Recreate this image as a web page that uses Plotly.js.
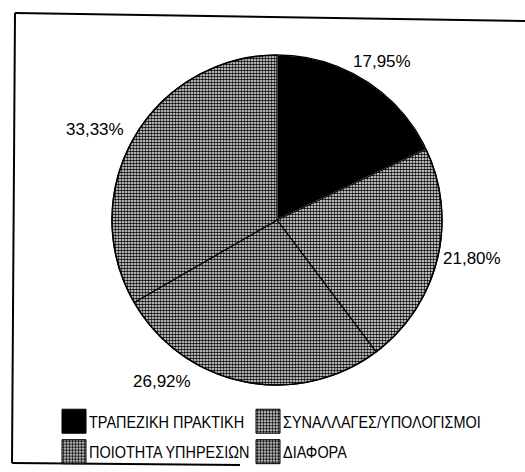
<!DOCTYPE html>
<html>
<head>
<meta charset="utf-8">
<script src="https://cdn.plot.ly/plotly-3.0.1.min.js"></script>
<style>
html,body{margin:0;padding:0;background:#fff;}
#chart{width:525px;height:472px;}
</style>
</head>
<body>
<div id="chart"></div>
<script>
// ---- data ----
const categories = ["ΤΡΑΠΕΖΙΚΗ ΠΡΑΚΤΙΚΗ", "ΣΥΝΑΛΛΑΓΕΣ/ΥΠΟΛΟΓΙΣΜΟΙ", "ΠΟΙΟΤΗΤΑ ΥΠΗΡΕΣΙΩΝ", "ΔΙΑΦΟΡΑ"];
const percentages = [17.95, 21.80, 26.92, 33.33];

// ---- layout helpers (pixel -> paper) ----
const W = 525, H = 472;
const px = x => x / W;
const py = y => 1 - y / H;

const labelFont = {family: "Liberation Sans, Arial, sans-serif", size: 17, color: "#000"};
const legendFont = {family: "Liberation Sans, Arial, sans-serif", size: 16.5, color: "#000"};

const fmt = v => v.toFixed(2).replace(".", ",") + "%";

// label anchor points (layout positions for the percentage labels)
const labelPos = [[382, 62], [472, 258], [162, 381], [95, 130]];

const cx = 277, cy = 220, r = 165;

const trace = {
  type: "pie",
  labels: categories,
  values: percentages,
  sort: false,
  direction: "clockwise",
  rotation: 0,
  textinfo: "none",
  hoverinfo: "label+percent",
  domain: {x: [px(cx - r), px(cx + r)], y: [py(cy + r), py(cy - r)]},
  marker: {
    colors: ["#000000", "#ffffff", "#ffffff", "#ffffff"],
    line: {color: ["#ffffff", "#000000", "#000000", "#000000"], width: 1.2},
    pattern: {
      shape: ["", ".", ".", "."],
      fgcolor: "#000000",
      bgcolor: ["#000000", "#ffffff", "#ffffff", "#ffffff"],
      size: [3, 3, 3, 3],
      solidity: [0.3, 0.55, 0.6, 0.6],
      fillmode: "replace"
    }
  }
};

const annotations = percentages.map((v, i) => ({
  xref: "paper", yref: "paper",
  x: px(labelPos[i][0]), y: py(labelPos[i][1]),
  xanchor: "center", yanchor: "middle",
  text: fmt(v), showarrow: false, font: labelFont
}));

const lineStyle = {color: "#000", width: 2};
const shapes = [
  {type: "line", xref: "paper", yref: "paper", x0: px(15), y0: py(13), x1: px(525), y1: py(21), line: lineStyle},
  {type: "line", xref: "paper", yref: "paper", x0: px(15), y0: py(13), x1: px(12), y1: py(463), line: lineStyle},
  {type: "line", xref: "paper", yref: "paper", x0: px(12), y0: py(463), x1: px(240), y1: py(465), line: lineStyle},
  // pie outline
  {type: "circle", xref: "paper", yref: "paper", x0: px(cx - r), x1: px(cx + r), y0: py(cy + r), y1: py(cy - r), line: {color: "#000", width: 1.5}, layer: "above"}
];

const layout = {
  width: W, height: H,
  margin: {l: 0, r: 0, t: 0, b: 0},
  paper_bgcolor: "#fff",
  plot_bgcolor: "#fff",
  showlegend: true,
  legend: {
    orientation: "h",
    x: px(54), y: py(404),
    xanchor: "left", yanchor: "top",
    entrywidth: 149, entrywidthmode: "pixels",
    font: legendFont,
    bgcolor: "rgba(0,0,0,0)",
    traceorder: "normal"
  },
  annotations: annotations,
  shapes: shapes
};

Plotly.newPlot("chart", [trace], layout, {displayModeBar: false, staticPlot: true}).then(gd => {
  // let legend text run past the entry box
  gd.querySelectorAll(".legend [clip-path]").forEach(el => el.removeAttribute("clip-path"));
  // enlarge legend swatches, condense text and widen row spacing to match the printed legend
  const items = gd.querySelectorAll(".legend .traces");
  items.forEach((t, i) => {
    const p = t.querySelector(".legendpoints path");
    if (p) {
      p.setAttribute("d", "M12,12H-12V-12H12Z");
      p.style.stroke = "#000";
      p.style.strokeWidth = "1px";
    }
    const txt = t.querySelector("text.legendtext");
    if (txt) {
      txt.removeAttribute("textLength");
      const w = txt.getComputedTextLength();
      txt.setAttribute("x", 35);
      txt.setAttribute("textLength", (w * 0.875).toFixed(1));
      txt.setAttribute("lengthAdjust", "spacingAndGlyphs");
    }
    if (i >= 2) {
      const m = /translate\(([-\d.]+),\s*([-\d.]+)\)/.exec(t.getAttribute("transform") || "");
      if (m) t.setAttribute("transform", `translate(${m[1]},${parseFloat(m[2]) + 6})`);
    }
  });
});
</script>
</body>
</html>
